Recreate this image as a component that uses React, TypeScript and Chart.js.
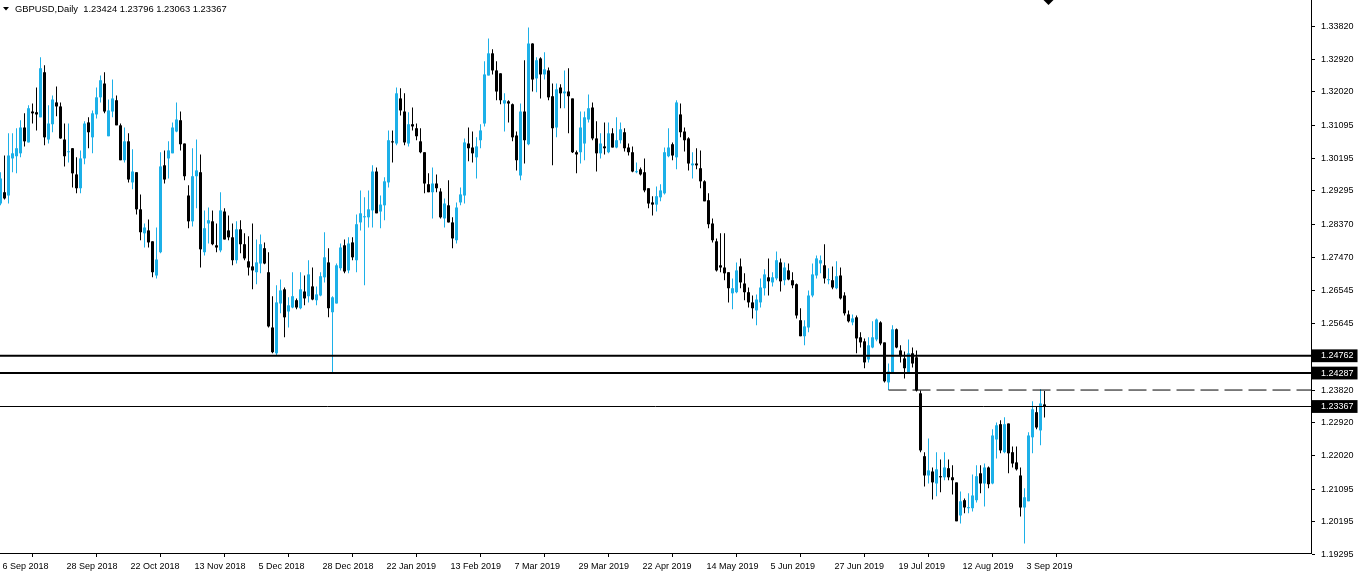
import React, { useEffect, useRef } from 'react';
import { Chart, registerables } from 'chart.js';

Chart.register(...registerables);

const SYMBOL = 'GBPUSD';
const PERIOD = 'Daily';

const dateLabels = [
  '6 Sep 2018', '28 Sep 2018', '22 Oct 2018', '13 Nov 2018', '5 Dec 2018', '28 Dec 2018',
  '22 Jan 2019', '13 Feb 2019', '7 Mar 2019', '29 Mar 2019', '22 Apr 2019', '14 May 2019',
  '5 Jun 2019', '27 Jun 2019', '19 Jul 2019', '12 Aug 2019', '3 Sep 2019',
];
const DATE_STEP = 16;

const priceTicks = [
  1.3382, 1.3292, 1.3202, 1.31095, 1.30195, 1.29295, 1.2837, 1.2747, 1.26545, 1.25645,
  1.2382, 1.2292, 1.2202, 1.21095, 1.20195, 1.19295,
];
const thickLevels = [1.24762, 1.24287];
const dashedLevel = 1.2382;
const dashedFromBar = 222;
const bidPrice = 1.23367;
const boxedLabels = [1.24762, 1.24287, 1.23367];

const openP = [
  1.2895, 1.2926, 1.2917, 1.3019, 1.3025, 1.3033, 1.3104, 1.3063, 1.3148, 1.3146,
  1.3132, 1.3256, 1.3071, 1.3113, 1.3173, 1.3162, 1.3071, 1.3036, 1.3047, 1.2975,
  1.2937, 1.3019, 1.3118, 1.3077, 1.3140, 1.3187, 1.3225, 1.3080, 1.3148, 1.3179,
  1.3110, 1.3014, 1.3066, 1.2953, 1.2981, 1.2879, 1.2813, 1.2821, 1.2791, 1.2697,
  1.2761, 1.3000, 1.3019, 1.3033, 1.3093, 1.3124, 1.3060, 1.2917, 1.2846, 1.2970,
  1.2981, 1.2761, 1.2840, 1.2846, 1.2780, 1.2766, 1.2873, 1.2821, 1.2802, 1.2739,
  1.2824, 1.2783, 1.2736, 1.2722, 1.2706, 1.2730, 1.2772, 1.2706, 1.2554, 1.2483,
  1.2620, 1.2659, 1.2598, 1.2609, 1.2629, 1.2607, 1.2653, 1.2640, 1.2667, 1.2629,
  1.2642, 1.2692, 1.2733, 1.2596, 1.2620, 1.2717, 1.2780, 1.2711, 1.2788, 1.2739,
  1.2843, 1.2857, 1.2857, 1.2876, 1.2983, 1.2873, 1.2890, 1.2953, 1.3066, 1.3060,
  1.3184, 1.3148, 1.3060, 1.3113, 1.3102, 1.3066, 1.3036, 1.2948, 1.2926, 1.2950,
  1.2928, 1.2854, 1.2890, 1.2843, 1.2794, 1.2898, 1.2917, 1.3060, 1.3049, 1.3022,
  1.3069, 1.3115, 1.3247, 1.3308, 1.3261, 1.3253, 1.3170, 1.3176, 1.3168, 1.3082,
  1.2972, 1.3148, 1.3058, 1.3335, 1.3239, 1.3294, 1.3250, 1.3261, 1.3190, 1.3104,
  1.3214, 1.3198, 1.3203, 1.3184, 1.3036, 1.3036, 1.3060, 1.3126, 1.3159, 1.3074,
  1.3033, 1.3052, 1.3036, 1.3088, 1.3049, 1.3069, 1.3091, 1.3049, 1.3036, 1.2981,
  1.2989, 1.2981, 1.2937, 1.2898, 1.2892, 1.2912, 1.2923, 1.3025, 1.3058, 1.3022,
  1.3140, 1.3093, 1.3074, 1.3000, 1.3005, 1.2992, 1.2956, 1.2904, 1.2840, 1.2791,
  1.2725, 1.2719, 1.2706, 1.2648, 1.2651, 1.2722, 1.2675, 1.2651, 1.2623, 1.2601,
  1.2623, 1.2662, 1.2692, 1.2678, 1.2689, 1.2733, 1.2684, 1.2711, 1.2684, 1.2673,
  1.2574, 1.2530, 1.2554, 1.2642, 1.2697, 1.2730, 1.2725, 1.2684, 1.2684, 1.2662,
  1.2697, 1.2642, 1.2590, 1.2568, 1.2582, 1.2527, 1.2516, 1.2466, 1.2499, 1.2521,
  1.2568, 1.2513, 1.2403, 1.2431, 1.2549, 1.2491, 1.2469, 1.2431, 1.2483, 1.2472,
  1.2373, 1.2200, 1.2147, 1.2158, 1.2125, 1.2145, 1.2142, 1.2167, 1.2142, 1.2128,
  1.2037, 1.2079, 1.2057, 1.2057, 1.2079, 1.2153, 1.2125, 1.2169, 1.2125, 1.2246,
  1.2288, 1.2211, 1.2290, 1.2211, 1.2183, 1.2147, 1.2059, 1.2076, 1.2252, 1.2321,
  1.2271, 1.23424,
];
const highP = [
  1.2981, 1.3027, 1.3088, 1.3088, 1.3102, 1.3124, 1.3143, 1.3165, 1.3170, 1.3214,
  1.3297, 1.3275, 1.3165, 1.3192, 1.3217, 1.3173, 1.3115, 1.3115, 1.3048, 1.3022,
  1.3041, 1.3121, 1.3132, 1.3151, 1.3214, 1.3247, 1.3256, 1.3181, 1.3236, 1.3192,
  1.3115, 1.3104, 1.3088, 1.3044, 1.2981, 1.2920, 1.2840, 1.2851, 1.2791, 1.2829,
  1.3036, 1.3041, 1.3066, 1.3118, 1.3173, 1.3148, 1.3060, 1.2945, 1.3047, 1.3071,
  1.3030, 1.2876, 1.2884, 1.2876, 1.2840, 1.2926, 1.2882, 1.2862, 1.2840, 1.2846,
  1.2849, 1.2813, 1.2805, 1.2840, 1.2796, 1.2810, 1.2788, 1.2761, 1.2640, 1.2670,
  1.2686, 1.2664, 1.2637, 1.2706, 1.2634, 1.2706, 1.2697, 1.2739, 1.2719, 1.2667,
  1.2706, 1.2816, 1.2772, 1.2640, 1.2730, 1.2785, 1.2796, 1.2802, 1.2802, 1.2865,
  1.2931, 1.2912, 1.2931, 1.3000, 1.2994, 1.2917, 1.2967, 1.3096, 1.3096, 1.3214,
  1.3212, 1.3198, 1.3146, 1.3159, 1.3115, 1.3102, 1.3036, 1.2978, 1.2994, 1.2975,
  1.2937, 1.2909, 1.2959, 1.2857, 1.2898, 1.2939, 1.3074, 1.3104, 1.3093, 1.3077,
  1.3113, 1.3286, 1.3349, 1.3319, 1.3286, 1.3253, 1.3198, 1.3179, 1.3170, 1.3093,
  1.3170, 1.3289, 1.3379, 1.3336, 1.3297, 1.3297, 1.3311, 1.3269, 1.3225, 1.3225,
  1.3223, 1.3261, 1.3267, 1.3184, 1.3041, 1.3148, 1.3148, 1.3195, 1.3173, 1.3121,
  1.3088, 1.3118, 1.3118, 1.3102, 1.3132, 1.3118, 1.3102, 1.3060, 1.3052, 1.3008,
  1.2994, 1.3019, 1.2937, 1.2915, 1.2942, 1.2948, 1.3049, 1.3102, 1.3063, 1.3179,
  1.3170, 1.3104, 1.3077, 1.3036, 1.3047, 1.3041, 1.2959, 1.2923, 1.2854, 1.2799,
  1.2813, 1.2813, 1.2706, 1.2689, 1.2733, 1.2744, 1.2703, 1.2664, 1.2642, 1.2645,
  1.2689, 1.2714, 1.2744, 1.2706, 1.2763, 1.2744, 1.2733, 1.2730, 1.2706, 1.2675,
  1.2607, 1.2574, 1.2656, 1.2730, 1.2752, 1.2752, 1.2783, 1.2717, 1.2722, 1.2736,
  1.2719, 1.2651, 1.2601, 1.2590, 1.2587, 1.2541, 1.2524, 1.2527, 1.2571, 1.2579,
  1.2571, 1.2513, 1.2455, 1.2560, 1.2551, 1.2505, 1.2488, 1.2521, 1.2499, 1.2491,
  1.2381, 1.2211, 1.2249, 1.2169, 1.2211, 1.2191, 1.2211, 1.2191, 1.2175, 1.2128,
  1.2103, 1.2084, 1.2098, 1.2150, 1.2175, 1.2175, 1.2180, 1.2172, 1.2274, 1.2293,
  1.2299, 1.2307, 1.2290, 1.2227, 1.2227, 1.2169, 1.2112, 1.2266, 1.2351, 1.2337,
  1.2384, 1.23796,
];
const lowP = [
  1.2890, 1.2906, 1.2895, 1.2981, 1.2978, 1.3022, 1.3052, 1.3063, 1.3115, 1.3096,
  1.3132, 1.3055, 1.3060, 1.3091, 1.3135, 1.3073, 1.2997, 1.3008, 1.2939, 1.2923,
  1.2923, 1.3003, 1.3047, 1.3033, 1.3129, 1.3173, 1.3143, 1.3080, 1.3132, 1.3110,
  1.3014, 1.3008, 1.2953, 1.2934, 1.2865, 1.2794, 1.2774, 1.2774, 1.2692, 1.2689,
  1.2758, 1.2950, 1.2964, 1.3033, 1.3091, 1.3041, 1.2959, 1.2827, 1.2832, 1.2882,
  1.2719, 1.2752, 1.2785, 1.2780, 1.2761, 1.2761, 1.2796, 1.2794, 1.2725, 1.2730,
  1.2758, 1.2739, 1.2697, 1.2659, 1.2673, 1.2703, 1.2728, 1.2554, 1.2483, 1.2477,
  1.2593, 1.2527, 1.2554, 1.2607, 1.2604, 1.2604, 1.2615, 1.2623, 1.2629, 1.2615,
  1.2640, 1.2678, 1.2582, 1.2428, 1.2620, 1.2711, 1.2703, 1.2703, 1.2739, 1.2706,
  1.2821, 1.2670, 1.2829, 1.2829, 1.2868, 1.2827, 1.2849, 1.2939, 1.3008, 1.3055,
  1.3137, 1.3055, 1.3052, 1.3096, 1.3069, 1.3033, 1.2923, 1.2926, 1.2854, 1.2926,
  1.2854, 1.2829, 1.2843, 1.2772, 1.2785, 1.2890, 1.2895, 1.3011, 1.3008, 1.2964,
  1.3047, 1.3107, 1.3247, 1.3250, 1.3179, 1.3168, 1.3093, 1.3118, 1.3066, 1.2986,
  1.2959, 1.3005, 1.3055, 1.3203, 1.3201, 1.3184, 1.3236, 1.3179, 1.3000, 1.3077,
  1.3157, 1.3157, 1.3088, 1.3034, 1.2978, 1.3005, 1.3014, 1.3118, 1.3069, 1.2983,
  1.3019, 1.3030, 1.3033, 1.3049, 1.3047, 1.3060, 1.3038, 1.3027, 1.2981, 1.2978,
  1.2972, 1.2926, 1.2882, 1.2862, 1.2873, 1.2901, 1.2920, 1.3022, 1.3014, 1.2989,
  1.3077, 1.3038, 1.2986, 1.2964, 1.2989, 1.2937, 1.2901, 1.2827, 1.2788, 1.2708,
  1.2706, 1.2684, 1.2623, 1.2604, 1.2648, 1.2662, 1.2629, 1.2609, 1.2579, 1.2560,
  1.2609, 1.2642, 1.2642, 1.2667, 1.2684, 1.2653, 1.2670, 1.2684, 1.2662, 1.2579,
  1.2530, 1.2505, 1.2541, 1.2637, 1.2689, 1.2703, 1.2675, 1.2673, 1.2659, 1.2659,
  1.2631, 1.2587, 1.2568, 1.2560, 1.2483, 1.2499, 1.2442, 1.2458, 1.2497, 1.2516,
  1.2505, 1.2403, 1.2382, 1.2431, 1.2497, 1.2458, 1.2414, 1.2428, 1.2444, 1.2378,
  1.2211, 1.2117, 1.2125, 1.2081, 1.2090, 1.2101, 1.2134, 1.2134, 1.2095, 1.2021,
  1.2015, 1.2043, 1.2043, 1.2048, 1.2073, 1.2098, 1.2062, 1.2112, 1.2123, 1.2194,
  1.2208, 1.2208, 1.2153, 1.2169, 1.2161, 1.2034, 1.1960, 1.2076, 1.2208, 1.2274,
  1.2230, 1.23063,
];
const closeP = [
  1.2964, 1.2909, 1.3027, 1.3033, 1.3047, 1.3104, 1.3066, 1.3157, 1.3143, 1.3140,
  1.3267, 1.3077, 1.3115, 1.3181, 1.3162, 1.3074, 1.3025, 1.3038, 1.2978, 1.2937,
  1.3019, 1.3115, 1.3091, 1.3143, 1.3187, 1.3234, 1.3148, 1.3151, 1.3184, 1.3110,
  1.3014, 1.3066, 1.2961, 1.2983, 1.2879, 1.2816, 1.2829, 1.2788, 1.2706, 1.2741,
  1.2997, 1.2961, 1.3041, 1.3104, 1.3126, 1.3058, 1.2970, 1.2846, 1.2970, 1.2986,
  1.2769, 1.2827, 1.2849, 1.2783, 1.2774, 1.2876, 1.2796, 1.2802, 1.2739, 1.2824,
  1.2783, 1.2744, 1.2719, 1.2711, 1.2733, 1.2783, 1.2730, 1.2557, 1.2486, 1.2623,
  1.2656, 1.2582, 1.2615, 1.2640, 1.2609, 1.2659, 1.2634, 1.2700, 1.2631, 1.2645,
  1.2695, 1.2747, 1.2607, 1.2637, 1.2725, 1.2774, 1.2708, 1.2785, 1.2747, 1.2838,
  1.2868, 1.2860, 1.2879, 1.2983, 1.2868, 1.2892, 1.2956, 1.3069, 1.3063, 1.3198,
  1.3151, 1.3063, 1.3113, 1.3107, 1.3080, 1.3036, 1.2950, 1.2926, 1.2950, 1.2937,
  1.2857, 1.2895, 1.2843, 1.2799, 1.2884, 1.2920, 1.3063, 1.3047, 1.3033, 1.3052,
  1.3096, 1.3250, 1.3308, 1.3261, 1.3203, 1.3179, 1.3179, 1.3170, 1.3077, 1.3014,
  1.3148, 1.3069, 1.3335, 1.3236, 1.3289, 1.3250, 1.3264, 1.3187, 1.3102, 1.3209,
  1.3198, 1.3203, 1.3190, 1.3036, 1.3030, 1.3104, 1.3132, 1.3157, 1.3074, 1.3033,
  1.3060, 1.3047, 1.3088, 1.3049, 1.3069, 1.3099, 1.3047, 1.3036, 1.2983, 1.2983,
  1.2975, 1.2931, 1.2895, 1.2892, 1.2915, 1.2931, 1.3036, 1.3049, 1.3027, 1.3173,
  1.3091, 1.3069, 1.3005, 1.3005, 1.3000, 1.2956, 1.2901, 1.2838, 1.2794, 1.2711,
  1.2719, 1.2703, 1.2662, 1.2662, 1.2711, 1.2678, 1.2651, 1.2623, 1.2607, 1.2631,
  1.2664, 1.2700, 1.2681, 1.2692, 1.2739, 1.2681, 1.2719, 1.2686, 1.2670, 1.2587,
  1.2530, 1.2557, 1.2642, 1.2700, 1.2744, 1.2739, 1.2689, 1.2686, 1.2664, 1.2695,
  1.2634, 1.2593, 1.2571, 1.2579, 1.2524, 1.2513, 1.2458, 1.2505, 1.2527, 1.2576,
  1.2510, 1.2406, 1.2433, 1.2549, 1.2499, 1.2475, 1.2442, 1.2483, 1.2455, 1.2381,
  1.2216, 1.2147, 1.2161, 1.2128, 1.2164, 1.2142, 1.2169, 1.2142, 1.2134, 1.2021,
  1.2076, 1.2059, 1.2060, 1.2092, 1.2145, 1.2125, 1.2169, 1.2123, 1.2257, 1.2285,
  1.2216, 1.2288, 1.2208, 1.2180, 1.2164, 1.2059, 1.2087, 1.2257, 1.2329, 1.2279,
  1.2345, 1.23367,
];

// layout constants (pixels of the MT4 window)
const W = 1358;
const H = 576;
const PLOT_RIGHT = 1311;
const PLOT_BOTTOM = 553;
const BAR_SPACING = 4;
const X_MIN = -0.125;
const X_MAX = X_MIN + PLOT_RIGHT / BAR_SPACING;
const Y_MAX = 1.34547;
const Y_MIN = 1.19338;
const SHIFT_MARK_BAR = 262;

const BULL = '#1cb0e8';
const INK = '#000000';
const FONT = '"Liberation Sans", Arial, sans-serif';

const isBoxed = (v: number | undefined) =>
  v !== undefined && boxedLabels.some((b) => Math.abs(b - v) < 1e-7);

export default function App() {
  const ref = useRef<HTMLCanvasElement | null>(null);

  useEffect(() => {
    const canvas = ref.current;
    if (!canvas) return;
    const idx = closeP.map((_, i) => i);
    const colors = idx.map((i) => (closeP[i] >= openP[i] ? BULL : INK));
    const last = closeP.length - 1;
    const titleText = `${SYMBOL},${PERIOD}  ${openP[last].toFixed(5)} ${highP[last].toFixed(5)} ${lowP[last].toFixed(5)} ${closeP[last].toFixed(5)}`;

    const overlay = {
      id: 'mt4Overlay',
      afterDraw(chart: any) {
        const { ctx, chartArea } = chart;
        const xs = chart.scales.x;
        ctx.save();
        ctx.fillStyle = INK;
        ctx.beginPath();
        ctx.moveTo(3, 7);
        ctx.lineTo(9, 7);
        ctx.lineTo(6, 10.5);
        ctx.closePath();
        ctx.fill();
        ctx.font = `9.4px ${FONT}`;
        ctx.textBaseline = 'alphabetic';
        ctx.textAlign = 'left';
        ctx.fillText(titleText, 15, 11.5);
        const sx = xs.getPixelForValue(SHIFT_MARK_BAR);
        ctx.beginPath();
        ctx.moveTo(sx - 5, chartArea.top);
        ctx.lineTo(sx + 5, chartArea.top);
        ctx.lineTo(sx, chartArea.top + 5);
        ctx.closePath();
        ctx.fill();
        ctx.restore();
      },
    };

    const hLine = (y: number, width: number, from = X_MIN, dash: number[] = []) => ({
      type: 'line' as const,
      data: [
        { x: from, y },
        { x: X_MAX, y },
      ],
      borderColor: INK,
      borderWidth: width,
      borderDash: dash,
      pointRadius: 0,
      order: 0,
    });

    const chart = new Chart(canvas, {
      type: 'bar',
      data: {
        datasets: [
          {
            label: 'wick',
            data: idx.map((i) => ({ x: i, y: [lowP[i], highP[i]] })) as any,
            backgroundColor: colors,
            barThickness: 1,
            grouped: false,
            inflateAmount: 0,
            borderWidth: 0,
            order: 2,
          } as any,
          {
            label: 'body',
            data: idx.map((i) => ({ x: i, y: [openP[i], closeP[i]] })) as any,
            backgroundColor: colors,
            barThickness: 3,
            minBarLength: 1,
            grouped: false,
            inflateAmount: 0,
            borderWidth: 0,
            order: 1,
          } as any,
          ...thickLevels.map((v) => hLine(v, 2)),
          hLine(bidPrice, 1),
          hLine(dashedLevel, 1, dashedFromBar, [18, 6]),
        ] as any,
      },
      options: {
        animation: false,
        responsive: false,
        devicePixelRatio: 1,
        events: [],
        layout: { padding: 0, autoPadding: false },
        plugins: { legend: { display: false }, tooltip: { enabled: false }, title: { display: false } },
        scales: {
          x: {
            type: 'linear',
            min: X_MIN,
            max: X_MAX,
            offset: false,
            afterBuildTicks: (s: any) => {
              s.ticks = dateLabels.map((_, k) => ({ value: k * DATE_STEP }));
            },
            afterFit: (s: any) => {
              s.height = H - PLOT_BOTTOM;
              s.paddingLeft = 0;
              s.paddingRight = 0;
              s.paddingTop = 0;
              s.paddingBottom = 0;
            },
            grid: { display: true, drawOnChartArea: false, drawTicks: true, tickLength: 4, color: INK, lineWidth: 1 },
            border: { display: true, color: INK, width: 1 },
            ticks: {
              autoSkip: false,
              maxRotation: 0,
              minRotation: 0,
              align: 'start',
              labelOffset: 2,
              padding: 4,
              color: INK,
              font: { family: FONT, size: 9 },
              callback: (_v: any, i: number) => dateLabels[i],
            },
          },
          y: {
            type: 'linear',
            position: 'right',
            min: Y_MIN,
            max: Y_MAX,
            afterBuildTicks: (s: any) => {
              s.ticks = [...priceTicks, ...boxedLabels].sort((a, b) => a - b).map((v) => ({ value: v }));
            },
            afterFit: (s: any) => {
              s.width = W - PLOT_RIGHT;
              s.paddingLeft = 0;
              s.paddingRight = 0;
              s.paddingTop = 0;
              s.paddingBottom = 0;
            },
            grid: {
              display: true,
              drawOnChartArea: false,
              drawTicks: true,
              tickLength: 4,
              lineWidth: 1,
              color: (c: any) => (isBoxed(c.tick?.value) ? 'rgba(0,0,0,0)' : INK),
            },
            border: { display: true, color: INK, width: 1 },
            ticks: {
              autoSkip: false,
              padding: 6,
              font: { family: FONT, size: 9 },
              color: (c: any) => (isBoxed(c.tick?.value) ? '#ffffff' : INK),
              showLabelBackdrop: (c: any) => isBoxed(c.tick?.value),
              backdropColor: INK,
              backdropPadding: { top: 1, bottom: 1, left: 9, right: 4 },
              callback: (v: any) => Number(v).toFixed(5),
            } as any,
          },
        },
      } as any,
      plugins: [overlay],
    });
    return () => chart.destroy();
  }, []);

  return (
    <div style={{ position: 'absolute', left: 0, top: 0, width: W, height: H, background: '#ffffff' }}>
      <canvas ref={ref} width={W} height={H} style={{ display: 'block' }} />
    </div>
  );
}
